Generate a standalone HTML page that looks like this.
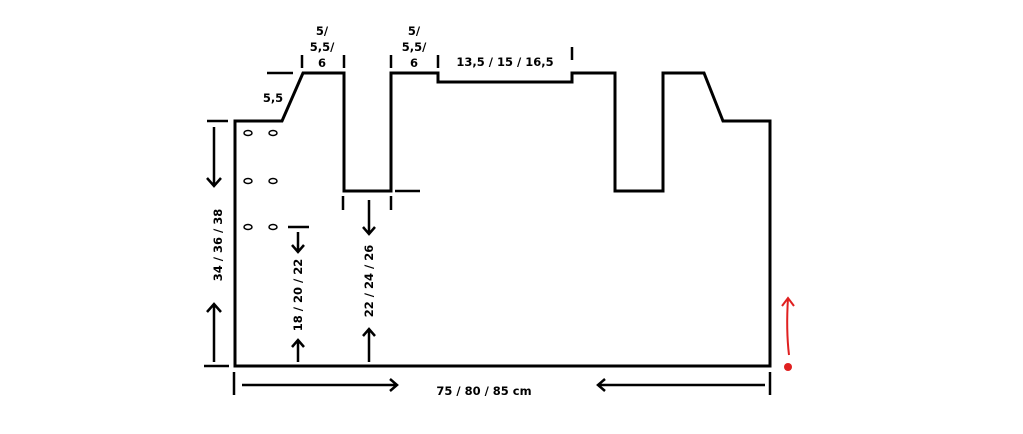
<!DOCTYPE html>
<html><head><style>body{margin:0;background:#fff}svg{display:block}text{font-family:"DejaVu Sans","Liberation Sans",sans-serif;font-weight:bold;font-size:11.5px;fill:#000}</style></head>
<body><svg width="1023" height="434" viewBox="0 0 1023 434">
<g fill="none" stroke="#000" stroke-width="3">
<path d="M235 366 V121 H282 L303 73 H344 V191 H391 V73 H438 V82 H572 V73 H615 V191 H663 V73 H704 L723 121 H770 V366 Z" stroke-linejoin="miter"/>
<g stroke-width="2.5">
<path d="M267 73H293 M302 55V68 M344 55V68 M391 55V68 M438 55V68 M572 47V60 M207 121H228 M395 191H420 M343 196V210 M391 196V210 M204 366H229 M288 227H309 M234 372V395 M770 372V395"/>
</g>
<g stroke-width="2.5">
<path d="M214 127V186 M207 178L214 186L221 178"/>
<path d="M214 362V304 M207 312L214 304L221 312"/>
<path d="M298 232V252 M292 245L298 252L304 245"/>
<path d="M298 362V340 M292 347L298 340L304 347"/>
<path d="M369 200V234 M363 227L369 234L375 227"/>
<path d="M369 362V329 M363 336L369 329L375 336"/>
<path d="M242 385H397 M390 379L397 385L390 391"/>
<path d="M765 385H598 M605 379L598 385L605 391"/>
</g>
<g stroke-width="1.5">
<ellipse cx="248" cy="133" rx="4" ry="2.5"/><ellipse cx="273" cy="133" rx="4" ry="2.5"/>
<ellipse cx="248" cy="181" rx="4" ry="2.5"/><ellipse cx="273" cy="181" rx="4" ry="2.5"/>
<ellipse cx="248" cy="227" rx="4" ry="2.5"/><ellipse cx="273" cy="227" rx="4" ry="2.5"/>
</g>
<path d="M789 355 Q786 330 788 298 M782 306L788 298L794 306" stroke="#e02020" stroke-width="2"/>
</g>
<circle cx="788" cy="367" r="4" fill="#e02020"/>
<text x="273" y="102" text-anchor="middle">5,5</text>
<text x="322" y="35" text-anchor="middle">5/</text><text x="322" y="51" text-anchor="middle">5,5/</text><text x="322" y="67" text-anchor="middle">6</text>
<text x="414" y="35" text-anchor="middle">5/</text><text x="414" y="51" text-anchor="middle">5,5/</text><text x="414" y="67" text-anchor="middle">6</text>
<text x="505" y="66" text-anchor="middle">13,5 / 15 / 16,5</text>
<text x="484" y="395" text-anchor="middle">75 / 80 / 85 cm</text>
<text transform="translate(222,245) rotate(-90)" text-anchor="middle">34 / 36 / 38</text>
<text transform="translate(302,295) rotate(-90)" text-anchor="middle">18 / 20 / 22</text>
<text transform="translate(373,281) rotate(-90)" text-anchor="middle">22 / 24 / 26</text>
</svg></body></html>
